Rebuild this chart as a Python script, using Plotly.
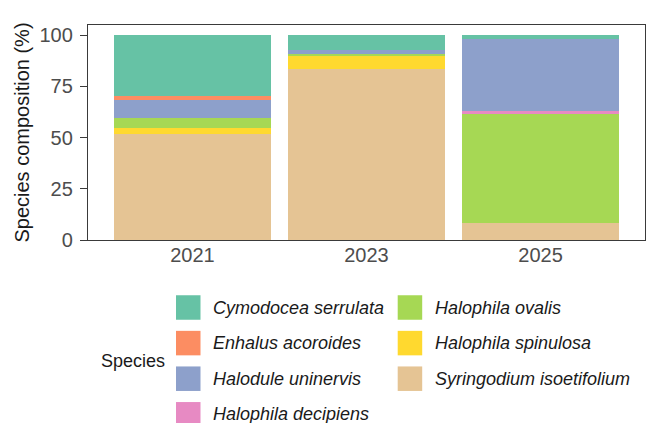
import plotly.graph_objects as go

# Survey years and species (top-to-bottom legend order)
years = ["2021", "2023", "2025"]
species = [
    "Cymodocea serrulata",
    "Enhalus acoroides",
    "Halodule uninervis",
    "Halophila decipiens",
    "Halophila ovalis",
    "Halophila spinulosa",
    "Syringodium isoetifolium",
]
colors = ["#66C2A5", "#FC8D62", "#8DA0CB", "#E78AC3", "#A6D854", "#FFD92F", "#E5C494"]

# Percentage composition per year
cymodocea_serrulata = [29.8, 7.0, 1.6]
enhalus_acoroides = [1.6, 0.0, 0.0]
halodule_uninervis = [8.9, 2.0, 35.3]
halophila_decipiens = [0.0, 0.0, 1.8]
halophila_ovalis = [5.2, 1.2, 52.8]
halophila_spinulosa = [2.8, 6.5, 0.0]
syringodium_isoetifolium = [51.7, 83.3, 8.5]

values = [
    cymodocea_serrulata,
    enhalus_acoroides,
    halodule_uninervis,
    halophila_decipiens,
    halophila_ovalis,
    halophila_spinulosa,
    syringodium_isoetifolium,
]

y_ticks = [0, 25, 50, 75, 100]

W, H = 654, 423
ML, MR, MT, MB = 88, 9, 25, 183
PW, PH = W - ML - MR, H - MT - MB

FONT = "Liberation Sans, Arial, sans-serif"

fig = go.Figure()

# Stack from the bottom: last species first
for name, col, vals in reversed(list(zip(species, colors, values))):
    fig.add_trace(go.Bar(
        x=years, y=vals, name=name,
        marker=dict(color=col, line=dict(width=0)),
        showlegend=False,
    ))


def px_x(px):
    return (px - ML) / PW


def px_y(py):
    return (H - MB - py) / PH


# Two-column legend below the panel
shapes = []
annotations = []
swatch_x = [176, 397.7]
label_x = [210.7, 432.7]
row0, pitch, sw = 307.5, 35.6, 24.5
for i, (name, col) in enumerate(zip(species, colors)):
    c, r = divmod(i, 4)
    cy = row0 + r * pitch
    shapes.append(dict(
        type="rect", xref="paper", yref="paper",
        x0=px_x(swatch_x[c]), x1=px_x(swatch_x[c] + sw),
        y0=px_y(cy - sw / 2), y1=px_y(cy + sw / 2),
        fillcolor=col, line=dict(width=0), layer="above",
    ))
    annotations.append(dict(
        xref="paper", yref="paper", x=px_x(label_x[c]), y=px_y(cy),
        xanchor="left", yanchor="middle", showarrow=False,
        text=f"<i>{name}</i>", font=dict(family=FONT, size=18, color="#1a1a1a"),
    ))

annotations.append(dict(
    xref="paper", yref="paper", x=px_x(99), y=px_y(row0 + 1.5 * pitch),
    xanchor="left", yanchor="middle", showarrow=False,
    text="Species", font=dict(family=FONT, size=18, color="#1a1a1a"),
))

fig.update_layout(
    width=W, height=H, autosize=False,
    margin=dict(l=ML, r=MR, t=MT, b=MB),
    paper_bgcolor="white", plot_bgcolor="white",
    barmode="stack", bargap=0.1,
    font=dict(family=FONT, color="#4d4d4d"),
    shapes=shapes, annotations=annotations,
    xaxis=dict(
        type="category", range=[-0.6, 2.6],
        showline=True, mirror=True, linecolor="#3a3a3a", linewidth=1.3,
        showgrid=False, zeroline=False, ticks="",
        tickfont=dict(family=FONT, size=20, color="#4d4d4d"),
        ticklabelstandoff=-3,
    ),
    yaxis=dict(
        range=[0, 105], tickvals=y_ticks,
        showline=True, mirror=True, linecolor="#3a3a3a", linewidth=1.3,
        showgrid=False, zeroline=False,
        ticks="outside", ticklen=7, tickwidth=1.3, tickcolor="#3a3a3a",
        tickfont=dict(family=FONT, size=20, color="#4d4d4d"),
        ticklabelstandoff=3,
        title=dict(text="Species composition (%)", standoff=4,
                   font=dict(family=FONT, size=20, color="#1a1a1a")),
    ),
)

fig.write_html("out.html")
